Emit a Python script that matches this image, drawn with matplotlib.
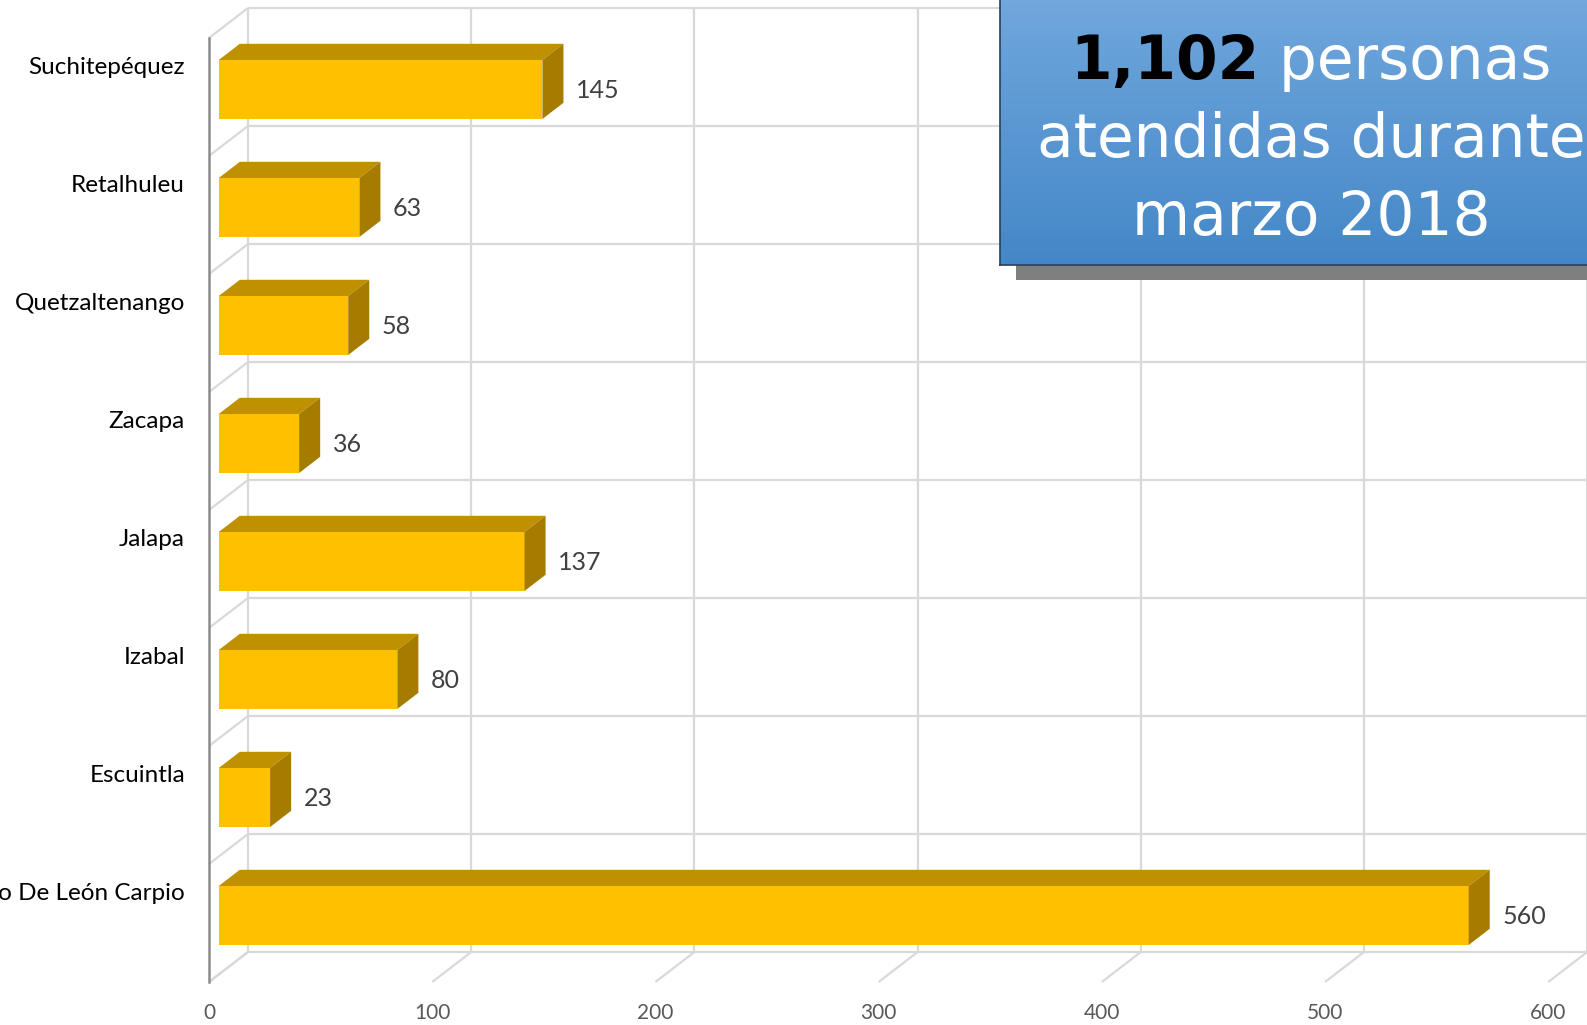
import numpy as np
import matplotlib.pyplot as plt
from matplotlib.patches import Rectangle, Polygon

categories = ["Suchitepéquez", "Retalhuleu", "Quetzaltenango", "Zacapa",
              "Jalapa", "Izabal", "Escuintla", "Ramiro De León Carpio"]
values = [145, 63, 58, 36, 137, 80, 23, 560]
xticks = [0, 100, 200, 300, 400, 500, 600]
total_text = "1,102"
title_rest = [" personas", "atendidas durante", "marzo 2018"]

W, H = 1587, 1025
PX = 2.232          # pixels per unit on the value axis
ROW = 118.0         # pixels per category
fig = plt.figure(figsize=(W / 100, H / 100), dpi=100)
ax = fig.add_axes([0, 0, 1, 1])
ax.set_xlim(-209 / PX, (W - 209) / PX)
ax.set_ylim((H - 97) / ROW, -97 / ROW)
ax.axis('off')

# 3D-ish depth offset (front plane -> back wall)
DX, DY = 39 / PX, -30 / ROW


def at(x, y, d):
    return x + d * DX, y + d * DY


grid = dict(color='#d9d9d9', lw=1.6, zorder=1, solid_capstyle='butt')
n = len(categories)
lo, hi = -0.5, n - 0.5
xmax = xticks[-1]

# back wall
for b in np.arange(lo, hi + 1):
    p0, p1 = at(0, b, 1), at(xmax, b, 1)
    ax.plot([p0[0], p1[0]], [p0[1], p1[1]], **grid)
    # left wall diagonals
    q0, q1 = at(0, b, 0), at(0, b, 1)
    ax.plot([q0[0], q1[0]], [q0[1], q1[1]], **grid)
for t in xticks:
    p0, p1 = at(t, lo, 1), at(t, hi, 1)
    ax.plot([p0[0], p1[0]], [p0[1], p1[1]], **grid)
    # floor diagonals
    q0, q1 = at(t, hi, 0), at(t, hi, 1)
    ax.plot([q0[0], q1[0]], [q0[1], q1[1]], **grid)
    ax.text(t, 7.763, str(t), ha='center', va='center', fontsize=15,
            color='#595959', family='Lato')

# front value axis line
ax.plot([0, 0], [lo, hi], color='#8c8c8c', lw=1.8, zorder=2)

# bars
d0, d1, h = 0.25, 0.79, 0.25
for i, v in enumerate(values):
    fx, fy = at(0, i - h, d0)
    ax.add_patch(Rectangle((fx, fy), v, 2 * h, facecolor='#ffc000',
                           edgecolor='none', zorder=3))
    top = [at(0, i - h, d0), at(v, i - h, d0), at(v, i - h, d1), at(0, i - h, d1)]
    ax.add_patch(Polygon(top, closed=True, facecolor='#bf9000',
                         edgecolor='none', zorder=3))
    side = [at(v, i - h, d0), at(v, i + h, d0), at(v, i + h, d1), at(v, i - h, d1)]
    ax.add_patch(Polygon(side, closed=True, facecolor='#a67c00',
                         edgecolor='none', zorder=3))
    lx, ly = at(v, i, d0)
    ax.text(lx + 15.0, ly + 0.01, str(v), ha='left', va='center',
            fontsize=18, color='#404040', family='Lato')

# category labels
for i, c in enumerate(categories):
    ax.text(-24 / PX, i + DY + 7 / ROW, c, ha='right', va='baseline',
            fontsize=17.5, color='black', family='Lato')

# title box with shadow
fig.patches.append(Rectangle((1016 / W, 1 - 280 / H), 1, (280 - 17) / H,
                             transform=fig.transFigure, facecolor='#7f7f7f',
                             edgecolor='none', zorder=5))
BX0, BH = 1000, 265
bx = fig.add_axes([BX0 / W, 1 - BH / H, (W - BX0) / W, BH / H], zorder=6)
bx.set_xlim(0, W - BX0)
bx.set_ylim(BH, 0)
grad = np.linspace(0, 1, 256)[:, None]
c_top = np.array([0x70, 0xa7, 0xdd]) / 255
c_bot = np.array([0x44, 0x87, 0xc7]) / 255
img = c_top[None, None, :] * (1 - grad[..., None]) + c_bot[None, None, :] * grad[..., None]
bx.imshow(img, extent=[0, W - BX0, BH, 0], aspect='auto', zorder=0)
bx.set_xticks([])
bx.set_yticks([])
for s in ['top', 'right']:
    bx.spines[s].set_visible(False)
for s in ['left', 'bottom']:
    bx.spines[s].set_color('#2a3f5a')
    bx.spines[s].set_linewidth(1.2)

cx = 1311 - BX0
tfont = dict(family='DejaVu Sans', fontsize=43)
r = fig.canvas.get_renderer()
t1 = bx.text(0, 79, total_text, color='black', fontweight='bold', va='baseline', **tfont)
t2 = bx.text(0, 79, title_rest[0], color='white', va='baseline', **tfont)
w1 = t1.get_window_extent(r).width
w2 = t2.get_window_extent(r).width
t1.set_x(cx - (w1 + w2) / 2)
t2.set_x(cx - (w1 + w2) / 2 + w1)
bx.text(cx, 157, title_rest[1], color='white', ha='center', va='baseline', **tfont)
bx.text(cx, 235, title_rest[2], color='white', ha='center', va='baseline', **tfont)

fig.savefig('out.png', dpi=100, facecolor='white')
